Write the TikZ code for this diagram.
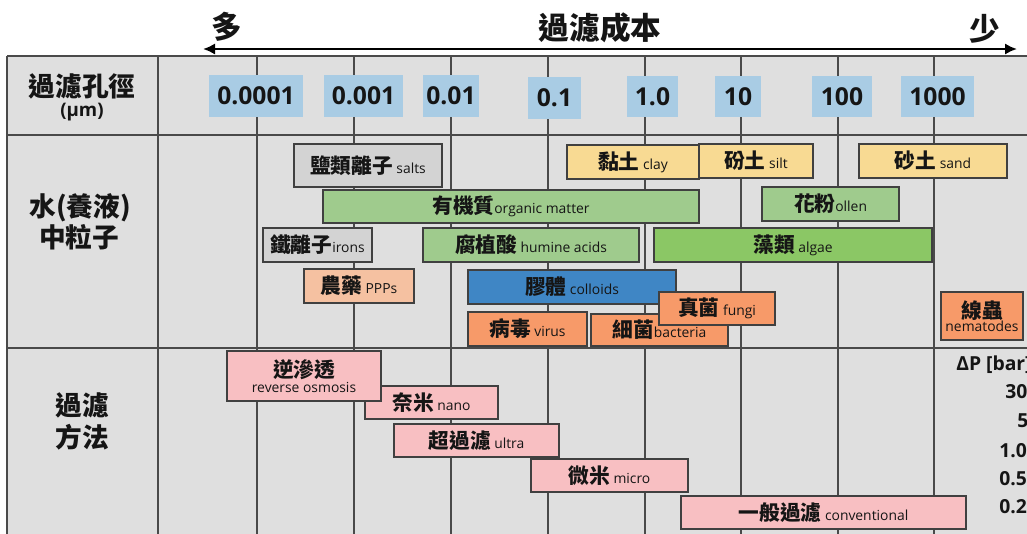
\documentclass[tikz,border=0pt]{standalone}
\usepackage{fontspec}
\setmainfont{Open Sans}
\newfontfamily\cjk{Noto Sans CJK TC}
\usetikzlibrary{arrows.meta}
\definecolor{tablebg}{HTML}{DFDFDF}
\definecolor{gridc}{HTML}{4A4A4A}
\definecolor{boxline}{HTML}{404040}
\definecolor{numblue}{HTML}{A9CCE4}
\definecolor{grayb}{HTML}{D3D3D3}
\definecolor{greenb}{HTML}{9FCB8D}
\definecolor{algaeb}{HTML}{8BC765}
\definecolor{blueb}{HTML}{3F86C5}
\definecolor{orangeb}{HTML}{F79A69}
\definecolor{salmonb}{HTML}{F5C1A1}
\definecolor{yellowb}{HTML}{F8DA93}
\definecolor{pinkb}{HTML}{F8BFC2}
\definecolor{ink}{HTML}{151515}
\newcommand\zh[1]{{\cjk\bfseries\fontsize{15.5}{17}\selectfont #1}}
\newcommand\en[1]{{\fontsize{10.4}{12}\selectfont #1}}
\newcommand\bx[7]{\node[pbox, fill=#6, minimum width={(#4-#2)*0.75pt}, minimum height={(#5-#3)*0.75pt}] (#1) at ({(#2+#4)/2},{(#3+#5)/2}) {#7};}
\newcommand\nb[6]{\node[numbox, minimum width={(#4-#2)*0.75pt}, minimum height={(#5-#3)*0.75pt}] (#1) at ({(#2+#4)/2},{(#3+#5)/2}) {#6};}
\begin{document}
\begin{tikzpicture}[x=0.75pt,y=-0.75pt,
  pbox/.style={draw=boxline, line width=1pt, inner sep=0pt, text=ink, font=\fontsize{10.4}{12}\selectfont, align=center},
  numbox/.style={fill=numblue, inner sep=0pt, text=ink, font=\bfseries\fontsize{18.5}{20}\selectfont},
  gridline/.style={draw=gridc, line width=1.1pt},
  rowlab/.style={inner sep=0pt, text=ink, font=\cjk\bfseries\fontsize{20}{22}\selectfont},
  headlab/.style={inner sep=0pt, text=ink, font=\cjk\bfseries\fontsize{23}{25}\selectfont},
  dplab/.style={inner sep=0pt, anchor=west, text=ink, font=\bfseries\fontsize{14.5}{16}\selectfont},
  costarrow/.style={line width=2.2pt, draw=black, {Latex[length=9pt,width=8.5pt]}-{Latex[length=9pt,width=8.5pt]}}]
\useasboundingbox (0,0) rectangle (1027,533);
\clip (0,0) rectangle (1027,533);
% table background and grid
\fill[tablebg] (7,56) rectangle (1040,545);
\foreach \yy in {56,135,348} \draw[gridline] (7,\yy) -- (1040,\yy);
\foreach \xx in {7,158,257,354,451,548,645,741,838,934} \draw[gridline] (\xx,56) -- (\xx,545);
% cost arrow
\coordinate (aL) at (203,49);
\coordinate (aR) at (1017,49);
\draw[costarrow] (aL) -- (aR);
\node[headlab] (many) at (227,27) {多};
\node[headlab] (cost) at (600,28) {過濾成本};
\node[headlab] (few) at (985,29) {少};
% row labels
\node[rowlab] (r1) at (82,86) {過濾孔徑};
\node[inner sep=0pt, text=ink, font=\bfseries\fontsize{14}{16}\selectfont] (r1u) at (82,112) {(µm)};
\node[rowlab] (r2a) at (80,208) {水(養液)};
\node[rowlab] (r2b) at (79,237) {中粒子};
\node[rowlab] (r3a) at (82,405) {過濾};
\node[rowlab] (r3b) at (82,437) {方法};
% pore size numbers
\nb{n1}{209}{75}{303}{117}{0.0001}
\nb{n2}{324}{75}{403}{117}{0.001}
\nb{n3}{423}{75}{479}{117}{0.01}
\nb{n4}{528}{77}{581}{119}{0.1}
\nb{n5}{627}{76}{678}{117}{1.0}
\nb{n6}{715}{76}{761}{117}{10}
\nb{n7}{812}{76}{872}{117}{100}
\nb{n8}{901}{76}{974}{117}{1000}
% particles
\bx{salts}{294}{144}{442}{187}{grayb}{\zh{鹽類離子} \en{salts}}
\bx{organic}{323}{190}{699}{223}{greenb}{\zh{有機質}\en{organic matter}}
\bx{irons}{263}{228}{372}{262}{grayb}{\zh{鐵離子}\en{irons}}
\bx{humine}{423}{228}{639}{262}{greenb}{\zh{腐植酸} \en{humine acids}}
\bx{ppps}{304}{269}{414}{303}{salmonb}{\zh{農藥} \en{PPPs}}
\bx{colloids}{468}{270}{676}{304}{blueb}{\zh{膠體} \en{colloids}}
\bx{virus}{468}{312}{587}{346}{orangeb}{\zh{病毒} \en{virus}}
\bx{bacteria}{591}{314}{728}{346}{orangeb}{\zh{細菌}\en{bacteria}}
\bx{fungi}{659}{292}{775}{325}{orangeb}{\zh{真菌} \en{fungi}}
\bx{clay}{567}{145}{699}{179}{yellowb}{\zh{黏土} \en{clay}}
\bx{silt}{699}{144}{813}{178}{yellowb}{\zh{砏土} \en{silt}}
\bx{sand}{859}{144}{1007}{178}{yellowb}{\zh{砂土} \en{sand}}
\bx{pollen}{762}{187}{899}{221}{greenb}{\zh{花粉}\en{ollen}}
\bx{algae}{654}{228}{932}{262}{algaeb}{\zh{藻類} \en{algae}}
\bx{nema}{941}{292}{1023}{340}{orangeb}{\zh{線蟲}\\[-2pt]\en{nematodes}}
% filtration methods
\bx{nano}{365}{386}{498}{419}{pinkb}{\zh{奈米} \en{nano}}
\bx{ro}{227}{351}{381}{401}{pinkb}{\zh{逆滲透}\\[-1pt]\en{reverse osmosis}}
\bx{ultra}{394}{424}{559}{457}{pinkb}{\zh{超過濾} \en{ultra}}
\bx{micro}{531}{459}{688}{492}{pinkb}{\zh{微米} \en{micro}}
\bx{conv}{681}{496}{966}{529}{pinkb}{\zh{一般過濾} \en{conventional}}
% pressure column
\node[dplab] (dp) at (956,365) {ΔP [bar]};
\node[dplab] (dp1) at (1005,392) {30};
\node[dplab] (dp2) at (1017,421) {5};
\node[dplab] (dp3) at (999,451) {1.0};
\node[dplab] (dp4) at (999,479) {0.5};
\node[dplab] (dp5) at (999,507) {0.2};
\end{tikzpicture}
\end{document}
